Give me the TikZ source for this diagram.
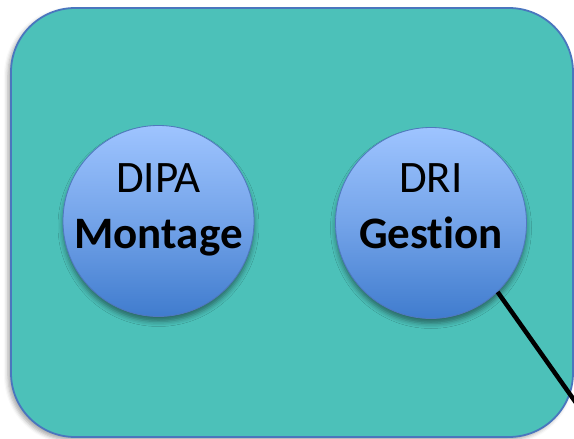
\documentclass[tikz,border=0pt]{standalone}
\usepackage{fontspec}
\setmainfont[Ligatures=NoCommon]{Carlito}
\usetikzlibrary{shadows.blur}
\definecolor{boxfill}{RGB}{76,193,185}
\definecolor{boxedge}{RGB}{74,118,190}
\definecolor{ctop}{RGB}{158,196,255}
\definecolor{cbot}{RGB}{64,124,206}
\definecolor{cedge}{RGB}{80,120,190}
\tikzset{
  outerbox/.style={draw=boxedge, line width=1.8pt, fill=boxfill, rounded corners=64pt,
    blur shadow={shadow xshift=-3pt, shadow yshift=-3pt, shadow blur radius=4pt, shadow opacity=35}},
  unit/.style={circle, draw=cedge, line width=0.8pt, minimum size=191pt, inner sep=0pt,
    top color=ctop, bottom color=cbot, middle color=ctop!55!cbot,
    blur shadow={shadow xshift=0pt, shadow yshift=-5pt, shadow blur radius=5pt, shadow opacity=45}},
  unittext/.style={anchor=base, align=center, font=\fontsize{45}{56}\selectfont, text=black, inner sep=0pt},
  link/.style={draw=black, line width=4.5pt}
}
\begin{document}
\begin{tikzpicture}[x=1pt,y=-1pt]
\useasboundingbox (0,0) rectangle (574,439);
\path[outerbox] (11,8) rectangle (573,437);
\node[unit] (dipa) at (158.5,221) {};
\node[unit] (dri) at (431,223) {};
\node[unittext] (dipatxt) at (158.5,248) {DIPA\\\textbf{Montage}};
\node[unittext] (dritxt) at (431,248) {DRI\\\textbf{Gestion}};
\coordinate (linkend) at (579,407);
\draw[link] (dri.-46) -- (linkend);
\end{tikzpicture}
\end{document}
